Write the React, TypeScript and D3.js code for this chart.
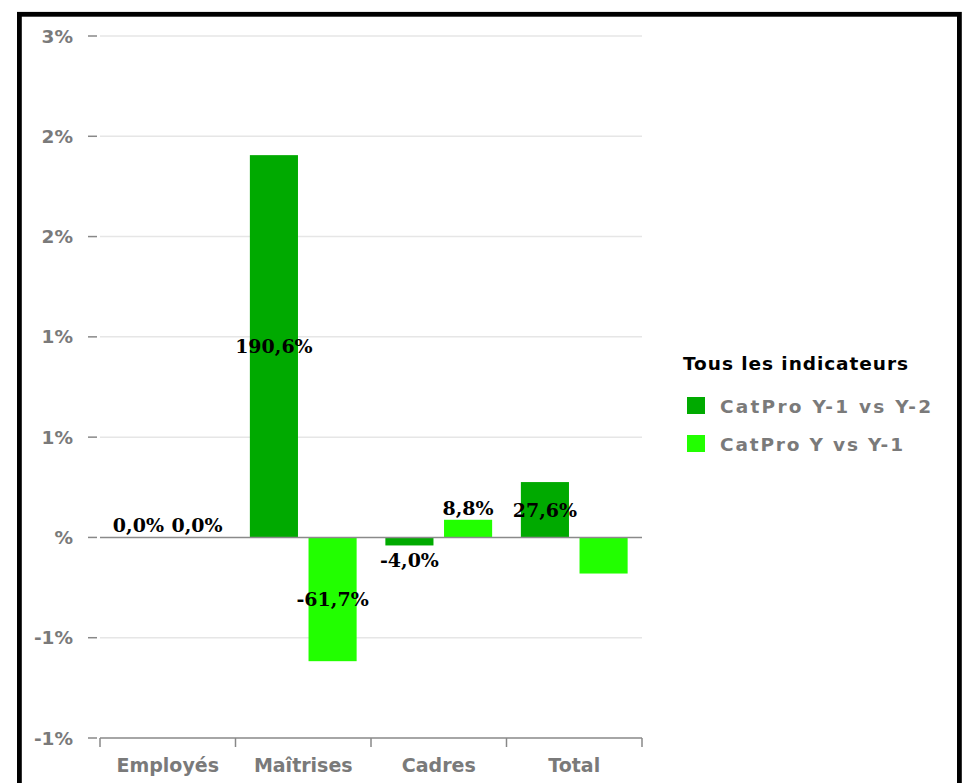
import React from "react";
import * as d3 from "d3";

const categories = ["Employés", "Maîtrises", "Cadres", "Total"];
const seriesNames = ["CatPro Y-1 vs Y-2", "CatPro Y vs Y-1"];
const seriesY1vsY2 = [0, 1.906, -0.04, 0.276];
const seriesYvsY1 = [0, -0.617, 0.088, -0.18];
const labelShownY1vsY2 = [true, true, true, true];
const labelShownYvsY1 = [true, true, true, false];
const yTickValues = [-1, -0.5, 0, 0.5, 1, 1.5, 2, 2.5];
const yTickLabels = ["-1%", "-1%", "%", "1%", "1%", "2%", "2%", "3%"];
const legendTitle = "Tous les indicateurs";
const colors = ["#00aa00", "#22ff00"];

const W = 964;
const H = 783;

const fmt = (v: number) => (v * 100).toFixed(1).replace(".", ",") + "%";

export default function App() {
  const x0 = d3.scaleBand<string>().domain(categories).range([100, 642]).padding(0);
  const x1 = d3
    .scaleBand<string>()
    .domain(seriesNames)
    .range([0, x0.bandwidth()])
    .paddingInner(0.18)
    .paddingOuter(0.245);
  const y = d3.scaleLinear().domain([-1, 2.5]).range([738, 36]);

  const series = [
    { name: seriesNames[0], values: seriesY1vsY2, shown: labelShownY1vsY2, color: colors[0] },
    { name: seriesNames[1], values: seriesYvsY1, shown: labelShownYvsY1, color: colors[1] },
  ];

  const axisFont = "'DejaVu Sans', sans-serif";
  const labelFont = "'DejaVu Serif', serif";
  const grey = "#7a7a7a";

  return (
    <svg
      width={W}
      height={H}
      style={{ position: "absolute", left: 0, top: 0, background: "#fff" }}
    >
      <rect x={0} y={0} width={W} height={H} fill="#fff" />
      {/* gridlines */}
      {yTickValues.map((v, i) => (
        <g key={"g" + i}>
          {v !== 0 && v !== -1 && (
            <line x1={100} x2={642} y1={y(v)} y2={y(v)} stroke="#e6e6e6" strokeWidth={1.5} />
          )}
          <line x1={88} x2={97} y1={y(v)} y2={y(v)} stroke="#888" strokeWidth={1.5} />
          <text
            x={73}
            y={y(v) + 6.5}
            textAnchor="end"
            fontFamily={axisFont}
            fontWeight="bold"
            fontSize={18.5}
            fill={grey}
          >
            {yTickLabels[i]}
          </text>
        </g>
      ))}
      {/* bars */}
      {categories.map((c, ci) => (
        <g key={c} transform={`translate(${x0(c)},0)`}>
          {series.map((s) => {
            const v = s.values[ci];
            const top = y(Math.max(0, v));
            const h = Math.abs(y(v) - y(0));
            return (
              <rect
                key={s.name}
                x={x1(s.name)}
                y={top}
                width={x1.bandwidth()}
                height={h}
                fill={s.color}
              />
            );
          })}
        </g>
      ))}
      {/* zero line */}
      <line x1={100} x2={642} y1={y(0)} y2={y(0)} stroke="#8a8a8a" strokeWidth={1.5} />
      {/* bottom axis */}
      <line x1={100} x2={642} y1={y(-1)} y2={y(-1)} stroke="#888" strokeWidth={1.5} />
      {[...categories.map((c) => x0(c) as number), 642].map((xv, i) => (
        <line key={"t" + i} x1={xv} x2={xv} y1={y(-1)} y2={y(-1) + 9} stroke="#888" strokeWidth={1.5} />
      ))}
      {categories.map((c) => (
        <text
          key={"l" + c}
          x={(x0(c) as number) + x0.bandwidth() / 2}
          y={772}
          textAnchor="middle"
          fontFamily={axisFont}
          fontWeight="bold"
          fontSize={19}
          fill={grey}
        >
          {c}
        </text>
      ))}
      {/* data labels */}
      {categories.map((c, ci) =>
        series.map((s) => {
          if (!s.shown[ci]) return null;
          const v = s.values[ci];
          const h = Math.abs(y(v) - y(0));
          const cx = (x0(c) as number) + (x1(s.name) as number) + x1.bandwidth() / 2;
          let ty: number;
          if (h > 30) {
            ty = (y(v) + y(0)) / 2 + 7;
          } else if (v >= 0) {
            ty = y(v) - 5;
          } else {
            ty = y(v) + 22;
          }
          return (
            <text
              key={"d" + c + s.name}
              x={cx}
              y={ty}
              textAnchor="middle"
              fontFamily={labelFont}
              fontWeight="bold"
              fontSize={19}
              fill="#000"
            >
              {fmt(v)}
            </text>
          );
        })
      )}
      {/* legend */}
      <text
        x={683}
        y={370}
        fontFamily={axisFont}
        fontWeight="bold"
        fontSize={18.5}
        fill="#000"
        textLength={225}
        lengthAdjust="spacing"
      >
        {legendTitle}
      </text>
      {series.map((s, i) => (
        <g key={"lg" + i}>
          <rect x={687} y={397 + i * 38} width={18} height={17} fill={s.color} />
          <text
            x={720}
            y={413 + i * 38}
            fontFamily={axisFont}
            fontWeight="bold"
            fontSize={18.5}
            fill={grey}
            textLength={i === 0 ? 211 : 183}
            lengthAdjust="spacing"
          >
            {s.name}
          </text>
        </g>
      ))}
      {/* frame */}
      <rect x={19.4} y={14.3} width={940} height={800} fill="none" stroke="#000" strokeWidth={4.8} />
    </svg>
  );
}
